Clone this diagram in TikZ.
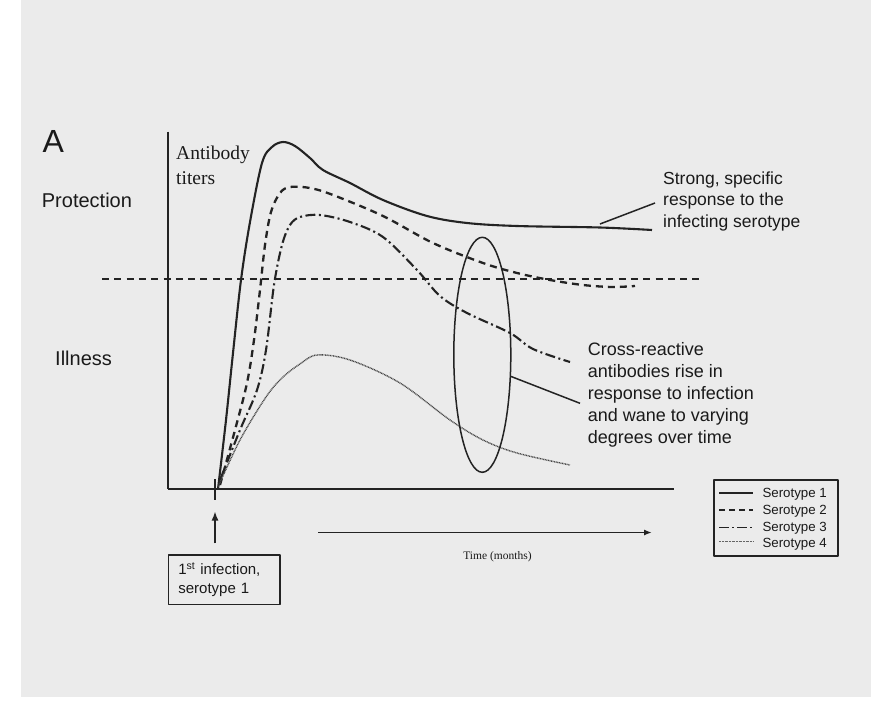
\documentclass[tikz,border=0pt]{standalone}
\usepackage{fontspec}
\setmainfont{Liberation Sans}
\newfontfamily\seriffam{Liberation Serif}
\usetikzlibrary{shapes.geometric,arrows.meta}
\definecolor{bg}{HTML}{EBEBEB}
\definecolor{ink}{HTML}{232323}
\definecolor{txt}{HTML}{1A1A1A}
\begin{document}
\begin{tikzpicture}[x=1pt,y=-1pt,line join=round,
  sone/.style={ink,line width=2.1pt},
  stwo/.style={ink,line width=2.3pt,dash pattern=on 7pt off 5pt},
  sthree/.style={ink,line width=2.1pt,dash pattern=on 10pt off 3.5pt on 2pt off 3.5pt},
  sfour/.style={ink!85,line width=1.4pt,dash pattern=on 0.9pt off 0.7pt},
  lbl/.style={inner sep=0pt,text=txt,align=left},
  conn/.style={ink,line width=1.5pt},
  axis/.style={ink,line width=2pt}]
\useasboundingbox (0,0) rectangle (871,707);
\fill[white] (0,0) rectangle (871,707);
\fill[bg] (21,0) rectangle (871,697);

% axes
\coordinate (yt) at (168,131.5);
\coordinate (o) at (168,489);
\coordinate (xe) at (674,489);
\draw[axis,line width=1.8pt] (yt) -- (o);
\draw[axis] (o) -- (xe);

% threshold
\coordinate (thA) at (102,279);
\coordinate (thB) at (702,279);
\draw[ink,line width=2.6pt,dash pattern=on 7pt off 5.3pt] (thA) -- (thB);

% curves
\draw[sone] plot[smooth,tension=0.55] coordinates {(218,489) (226,420) (233,353) (241,280) (250,222) (262,163) (272,147) (283,142) (295,146) (310,158) (323,170) (350,183) (383,200) (427,216) (467,223) (517,226) (600,227.5) (652,230)};
\draw[stwo] plot[smooth,tension=0.55] coordinates {(220,485) (235,430) (247,383) (254,340) (260,290) (265,245) (271,212) (280,193) (290,187) (310,188) (333,195) (383,216) (433,243) (483,263) (517,273) (550,280) (583,285) (612,287) (635,286)};
\draw[sthree] plot[smooth,tension=0.55] coordinates {(220,480) (240,430) (257,390) (266,350) (274,285) (282,245) (290,225) (300,217) (320,215) (350,222) (383,237) (417,270) (440,296) (467,313) (510,333) (533,349) (570,362)};
\draw[sfour] plot[smooth,tension=0.55] coordinates {(218,487) (240,440) (266,397) (283,377) (300,364) (317,355) (350,360) (400,383) (450,420) (483,440) (517,453) (570,465)};

% ellipse
\node[draw=ink,line width=1.5pt,ellipse,minimum width=57pt,minimum height=235pt,inner sep=0pt] (ell) at (482.3,354.8) {};

% labels
\node[lbl,anchor=base west,font=\fontsize{32}{36}\selectfont] (A) at (42.5,152) {A};
\node[lbl,anchor=base west,font=\fontsize{20}{24}\selectfont] (prot) at (41.7,207) {Protection};
\node[lbl,anchor=base west,font=\fontsize{20}{24}\selectfont] (ill) at (55,365) {Illness};
\node[lbl,anchor=north west,font=\seriffam\fontsize{19.5}{24.5}\selectfont] (abt) at (176,146) {Antibody\\titers};

\node[lbl,anchor=north west,font=\fontsize{17.5}{21.5}\selectfont] (strong) at (663,171.5) {Strong, specific\\response to the\\infecting serotype};
\coordinate (sA) at (600,224);
\coordinate (sB) at (655,203);
\draw[conn] (sA) -- (sB);

\node[lbl,anchor=north west,font=\fontsize{18}{21.8}\selectfont] (cross) at (587.7,342.6) {Cross-reactive\\antibodies rise in\\response to infection\\and wane to varying\\degrees over time};
\coordinate (cB) at (580,403.3);
\draw[conn] (ell.-37) -- (cB);

% time arrow
\coordinate (tA) at (318.3,532.5);
\coordinate (tB) at (652,532.5);
\draw[ink,line width=1.6pt,-{Latex[length=8pt,width=6pt]}] (tA) -- (tB);
\node[lbl,anchor=base,font=\seriffam\fontsize{11.5}{13}\selectfont] (time) at (497.5,559) {Time (months)};

% infection
\coordinate (tk1) at (215,479);
\coordinate (tk2) at (215,500);
\draw[ink,line width=1.6pt] (tk1) -- (tk2);
\node[draw=ink,line width=1.5pt,inner xsep=10pt,inner ysep=0pt,text width=91.7pt,minimum height=49.3pt,align=left,text=txt,font=\fontsize{15}{19}\selectfont] (inf) at (224.2,579.7) {1\textsuperscript{st} infection,\\serotype 1};
\coordinate (iA) at (215,543.3);
\coordinate (iB) at (215,511.5);
\draw[ink,line width=1.6pt,-{Latex[length=9pt,width=7pt]}] (iA) -- (iB);

% legend
\node[draw=ink,line width=2pt,minimum width=124.3pt,minimum height=75.7pt,inner sep=0pt] (leg) at (776.2,517.9) {};
\coordinate (l1a) at (719,493.3); \coordinate (l1b) at (753,493.3);
\coordinate (l2a) at (719,510);   \coordinate (l2b) at (753,510);
\coordinate (l3a) at (719,527.5); \coordinate (l3b) at (753,527.5);
\coordinate (l4a) at (719,541.5); \coordinate (l4b) at (753,541.5);
\draw[sone] (l1a) -- (l1b);
\draw[ink,line width=2.2pt,dash pattern=on 6pt off 4pt] (l2a) -- (l2b);
\draw[ink,line width=1.8pt,dash pattern=on 10pt off 3pt on 2pt off 3pt] (l3a) -- (l3b);
\draw[ink!70,line width=1pt,dash pattern=on 0.8pt off 0.6pt] (l4a) -- (l4b);
\node[lbl,anchor=base west,font=\fontsize{13.3}{15}\selectfont] (t1) at (762.3,497) {Serotype 1};
\node[lbl,anchor=base west,font=\fontsize{13.3}{15}\selectfont] (t2) at (762.3,514.3) {Serotype 2};
\node[lbl,anchor=base west,font=\fontsize{13.3}{15}\selectfont] (t3) at (762.3,531) {Serotype 3};
\node[lbl,anchor=base west,font=\fontsize{13.3}{15}\selectfont] (t4) at (762.3,547.7) {Serotype 4};
\end{tikzpicture}
\end{document}
